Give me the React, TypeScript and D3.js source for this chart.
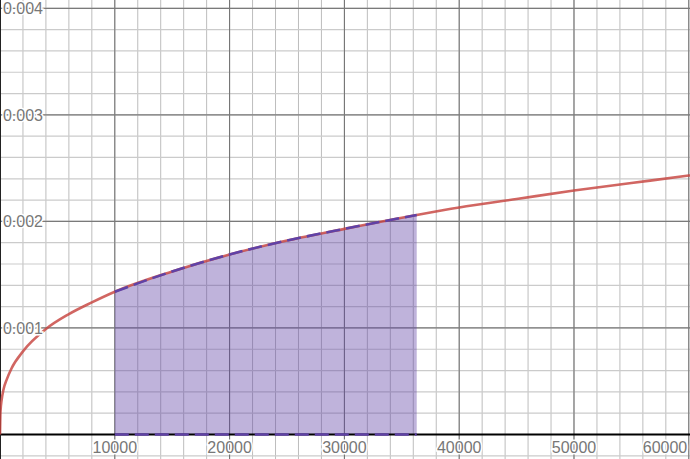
import * as d3 from 'd3';

// curve (x, y)
const curveX = [0, 40, 150, 300, 600, 1000, 2000, 4000, 6000, 8000, 10000, 15000, 20000, 25000, 30000, 36300, 40000, 45000, 50000, 55000, 60000, 62000];
const curveY = [0, 0.00021, 0.00033, 0.00042, 0.00052, 0.00062, 0.00078, 0.00099, 0.00113, 0.00124, 0.00134, 0.00153, 0.00169, 0.00182, 0.00193, 0.00206, 0.00213, 0.00221, 0.00229, 0.00236, 0.00243, 0.00246];

// shaded interval
const shadeFrom = 10000;
const shadeTo = 36300;

const xTickLabels = ['10000', '20000', '30000', '40000', '50000', '60000'];
const yTickLabels = ['0.001', '0.002', '0.003', '0.004'];

const width = 690;
const height = 459;

type Pt = { x: number; y: number };

const App = () => {
  const x = d3.scaleLinear().domain([0, 60105]).range([0, width]);
  const y = d3.scaleLinear().domain([0, 0.004]).range([434.5, 8.3]);

  const pts: Pt[] = curveX.map((v, i) => ({ x: v, y: curveY[i] }));
  const shaded = pts.filter((d) => d.x >= shadeFrom && d.x <= shadeTo);

  const line = d3
    .line<Pt>()
    .x((d) => x(d.x))
    .y((d) => y(d.y))
    .curve(d3.curveMonotoneX);

  const area = d3
    .area<Pt>()
    .x((d) => x(d.x))
    .y0(y(0))
    .y1((d) => y(d.y))
    .curve(d3.curveMonotoneX);

  const xMinor = d3.range(0, 64000, 2000);
  const yMinor = d3.range(-2, 22).map((i) => i * 0.0002);

  const fontFamily = 'Arial, "Liberation Sans", sans-serif';
  // half width of a 5-digit label, so the last one stays inside the frame
  const halfLabel = 22;

  return (
    <svg
      width={width}
      height={height}
      style={{ position: 'absolute', left: 0, top: 0, display: 'block', background: '#fff' }}
    >
      {/* minor grid */}
      {xMinor.map((v) => (
        <line key={'xm' + v} x1={x(v)} x2={x(v)} y1={0} y2={height} stroke="#bdbdbd" strokeWidth={1} />
      ))}
      {yMinor.map((v, i) => (
        <line key={'ym' + i} x1={0} x2={width} y1={y(v)} y2={y(v)} stroke="#cbcbcb" strokeWidth={1.2} />
      ))}
      {/* major grid */}
      {xMinor.filter((v) => v % 10000 === 0).map((v) => (
        <line key={'xM' + v} x1={x(v)} x2={x(v)} y1={0} y2={height} stroke="#6e6e6e" strokeWidth={1} />
      ))}
      {[0.001, 0.002, 0.003, 0.004].map((v) => (
        <line key={'yM' + v} x1={0} x2={width} y1={y(v)} y2={y(v)} stroke="#7a7a7a" strokeWidth={1.2} />
      ))}

      {/* shaded region */}
      <path d={area(shaded) ?? ''} fill="#6042a6" fillOpacity={0.4} />

      {/* axes */}
      <line x1={0} x2={width} y1={y(0)} y2={y(0)} stroke="#000" strokeWidth={2} />
      <line x1={x(0)} x2={x(0)} y1={0} y2={height} stroke="#222" strokeWidth={2} />

      {/* curve */}
      <path d={line(pts) ?? ''} fill="none" stroke="#c74440" strokeOpacity={0.82} strokeWidth={2.6} />

      {/* dashed edges of the shaded region */}
      <path d={line(shaded) ?? ''} fill="none" stroke="#6042a6" strokeWidth={2.6} strokeDasharray="14,6" />
      <line
        x1={x(shadeFrom)}
        x2={x(shadeTo)}
        y1={y(0)}
        y2={y(0)}
        stroke="#6042a6"
        strokeWidth={2.6}
        strokeDasharray="14,6"
      />

      {/* tick labels */}
      {xTickLabels.map((t) => (
        <text
          key={'xt' + t}
          x={Math.min(x(+t), width - 3 - halfLabel)}
          y={452.5}
          textAnchor="middle"
          fontSize={16}
          fontFamily={fontFamily}
          fill="#777"
          stroke="#fff"
          strokeWidth={3}
          paintOrder="stroke"
        >
          {t}
        </text>
      ))}
      {yTickLabels.map((t) => (
        <text
          key={'yt' + t}
          x={43}
          y={y(+t)}
          dy="0.36em"
          textAnchor="end"
          fontSize={16}
          fontFamily={fontFamily}
          fill="#777"
          stroke="#fff"
          strokeWidth={3}
          paintOrder="stroke"
        >
          {t}
        </text>
      ))}
    </svg>
  );
};

export default App;
